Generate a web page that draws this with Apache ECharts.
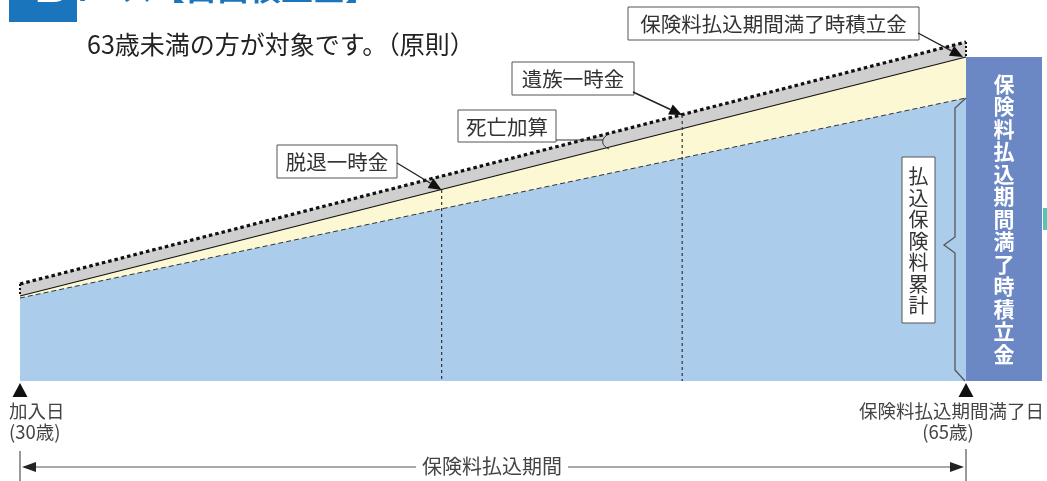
<!DOCTYPE html>
<html><head><meta charset="utf-8">
<script src="https://cdn.jsdelivr.net/npm/echarts@6/dist/echarts.min.js"></script>
<style>html,body{margin:0;padding:0;background:#fff}#c{width:1047px;height:481px}</style>
</head><body><div id="c"></div>
<script>
// ---- data ----
const ages = [30, 65];                 // 加入日(30歳) → 保険料払込期間満了日(65歳)
const premiumTotal = [83, 283];        // 払込保険料累計 (blue)
const reserve = [85, 324];             // 積立金 / 脱退一時金 (solid line)
const deathBenefit = [97, 339];        // 遺族一時金 = 積立金 + 死亡加算 (dotted line)
const eventAges = [45.6, 54.5];
const eventTops = [191, 266];
const eventLabels = ['脱退一時金', '遺族一時金'];
const columnLabel = '保険料払込期間満了時積立金';

const F = '"Noto Sans CJK JP", "Noto Sans", sans-serif';
const pts = ys => ages.map((a, i) => [a, ys[i]]);

const chart = echarts.init(document.getElementById('c'), null, {renderer: 'canvas'});
const series = [
  {type: 'line', data: pts(deathBenefit), symbol: 'none', silent: true, z: 2,
   lineStyle: {color: '#111', width: 3.2, type: [3.5, 3], cap: 'butt'},
   areaStyle: {color: '#cfcfcf', opacity: 1}},
  {type: 'line', data: pts(reserve), symbol: 'none', silent: true, z: 3,
   lineStyle: {color: '#111', width: 1.2},
   areaStyle: {color: '#fdf8d4', opacity: 1}},
  {type: 'line', data: pts(premiumTotal), symbol: 'none', silent: true, z: 4,
   lineStyle: {color: '#333', width: 1, type: [5, 3]},
   areaStyle: {color: '#abcdeb', opacity: 1}},
  {type: 'line', data: [[ages[0], deathBenefit[0]], [ages[0], reserve[0]]], symbol: 'none', silent: true, z: 5,
   lineStyle: {color: '#111', width: 2, type: [2, 2]}},
  {type: 'line', data: [[ages[1], deathBenefit[1]], [ages[1], reserve[1]]], symbol: 'none', silent: true, z: 5,
   lineStyle: {color: '#111', width: 2, type: [2, 2]}}
];
eventAges.forEach((a, i) => {
  series.push({type: 'line', data: [[a, eventTops[i]], [a, 0]], symbol: 'none', silent: true, z: 5,
    lineStyle: {color: '#333', width: 1.2, type: [3, 3]}});
});
series.push({
  type: 'custom', clip: false, z: 6, silent: true,
  data: [[ages[1], reserve[1]]],
  renderItem: (params, api) => {
    const top = api.coord([api.value(0), api.value(1)]);
    const bot = api.coord([api.value(0), 0]);
    return {type: 'group', children: [
      {type: 'rect', shape: {x: top[0], y: top[1], width: 76, height: bot[1] - top[1]}, style: {fill: '#6b88c5'}},
      {type: 'text', style: {text: columnLabel.split('').join('\n'), x: top[0] + 38, y: (top[1] + bot[1]) / 2,
        align: 'center', verticalAlign: 'middle', fill: '#fff', fontFamily: F, fontWeight: 'bold', fontSize: 21, lineHeight: 22.5}}
    ]};
  }
});

chart.setOption({
  animation: false,
  grid: {left: 20, right: 81, top: 0, bottom: 100},
  xAxis: {type: 'value', min: 30, max: 65, show: false},
  yAxis: {type: 'value', min: 0, max: 381, show: false},
  series
});

const px = (a, v) => chart.convertToPixel({gridIndex: 0}, [a, v]);
const G = [];
const txt = (text, x, y, size, opt = {}) => G.push(Object.assign({type: 'text', z: 100,
  style: Object.assign({text, x, y, fill: '#333', fontFamily: F, fontSize: size, align: 'left', verticalAlign: 'middle'}, opt.style || {})}, opt.el || {}));
const box = (x, y, w, h, text, size) => {
  G.push({type: 'rect', z: 100, shape: {x, y, width: w, height: h}, style: {fill: '#fff', stroke: '#555', lineWidth: 1}});
  txt(text, x + w / 2, y + h / 2 + 1, size, {style: {align: 'center'}});
};
const arrow = (from, to, len = 13, half = 5.5) => {
  const dx = to[0] - from[0], dy = to[1] - from[1], d = Math.hypot(dx, dy);
  const ux = dx / d, uy = dy / d;
  const bx = to[0] - ux * len, by = to[1] - uy * len;
  G.push({type: 'line', z: 100, shape: {x1: from[0], y1: from[1], x2: bx, y2: by}, style: {stroke: '#222', lineWidth: 1.4}});
  G.push({type: 'polygon', z: 100, shape: {points: [to, [bx - uy * half, by + ux * half], [bx + uy * half, by - ux * half]]}, style: {fill: '#111'}});
};

// header (clipped at top)
txt('コース【自由積立金】', 57, -12, 32, {style: {fill: '#1a75bc', fontWeight: 'bold'}});
G.push({type: 'rect', z: 101, shape: {x: 9, y: 0, width: 68, height: 22}, style: {fill: '#1a75bc'}});
txt('B', 33, -14, 56, {style: {fill: '#fff', fontWeight: 'bold', fontFamily: '"Noto Sans", sans-serif'}, el: {z: 102}});
txt('63歳未満の方が対象です。（原則）', 87, 44, 25, {style: {fill: '#222'}});

// callouts
box(628, 7, 291, 33, '保険料払込期間満了時積立金', 20.5);
arrow([918, 33], px(ages[1], reserve[1]).map((v, i) => v - (i === 0 ? 3 : 0)));
box(512, 62, 122, 33, eventLabels[1], 20.5);
arrow([633, 92], px(eventAges[1], eventTops[1]));
box(277, 145, 120, 33, eventLabels[0], 20.5);
arrow([397, 163], px(eventAges[0], eventTops[0]));
box(458, 110, 98, 32, '死亡加算', 20.5);
G.push({type: 'line', z: 100, shape: {x1: 556, y1: 140, x2: 603, y2: 140}, style: {stroke: '#333', lineWidth: 1}});
G.push({type: 'bezierCurve', z: 100, shape: {x1: 607, y1: 135, x2: 609, y2: 149, cpx1: 600, cpy1: 140, cpx2: 602, cpy2: 146}, style: {stroke: '#333', lineWidth: 1, fill: null}});

// 払込保険料累計 brace and label
const bt = px(ages[1], premiumTotal[1]);
const bb = px(ages[1], 0);
G.push({type: 'polyline', z: 100, shape: {points: [[bt[0], bt[1]], [955, bt[1] + 10], [955, 237], [944, 245], [955, 253], [955, bb[1] - 11], [bb[0] - 1, bb[1]]]},
  style: {stroke: '#555', lineWidth: 1.3, fill: null}});
G.push({type: 'rect', z: 100, shape: {x: 902, y: 157, width: 33, height: 166}, style: {fill: '#fff', stroke: '#555', lineWidth: 1}});
txt('払込保険料累計'.split('').join('\n'), 918.5, 241, 20, {style: {align: 'center', lineHeight: 21.5}});

// bottom markers
const L = px(ages[0], 0), R = px(ages[1], 0);
G.push({type: 'polygon', z: 100, shape: {points: [[L[0], 383], [L[0] - 7.5, 397], [L[0] + 7.5, 397]]}, style: {fill: '#111'}});
G.push({type: 'polygon', z: 100, shape: {points: [[R[0], 383], [R[0] - 7.5, 397], [R[0] + 7.5, 397]]}, style: {fill: '#111'}});
txt('加入日', 9, 411, 18.5, {style: {fill: '#444'}});
txt('(30歳)', 9, 432, 18.5, {style: {fill: '#444'}});
txt('保険料払込期間満了日', 1044, 411, 18.5, {style: {align: 'right', fill: '#444'}});
txt('(65歳)', 948, 432, 18.5, {style: {align: 'center', fill: '#444'}});

// bottom period arrow
G.push({type: 'line', z: 100, shape: {x1: L[0], y1: 451, x2: L[0], y2: 481}, style: {stroke: '#555', lineWidth: 1.2}});
G.push({type: 'line', z: 100, shape: {x1: R[0], y1: 449, x2: R[0], y2: 481}, style: {stroke: '#555', lineWidth: 1.2}});
G.push({type: 'line', z: 100, shape: {x1: L[0] + 4, y1: 467, x2: R[0] - 4, y2: 467}, style: {stroke: '#555', lineWidth: 1.2}});
G.push({type: 'polygon', z: 100, shape: {points: [[L[0] + 2, 467], [L[0] + 16, 462], [L[0] + 16, 472]]}, style: {fill: '#222'}});
G.push({type: 'polygon', z: 100, shape: {points: [[R[0] - 2, 467], [R[0] - 16, 462], [R[0] - 16, 472]]}, style: {fill: '#222'}});
txt('保険料払込期間', 492, 466, 20, {style: {align: 'center', backgroundColor: '#fff', padding: [0, 6], fill: '#444'}});

// page edge marker
G.push({type: 'rect', z: 100, shape: {x: 1043, y: 208, width: 4, height: 22}, style: {fill: '#56c5b5'}});

chart.setOption({graphic: {elements: G}});
</script></body></html>
